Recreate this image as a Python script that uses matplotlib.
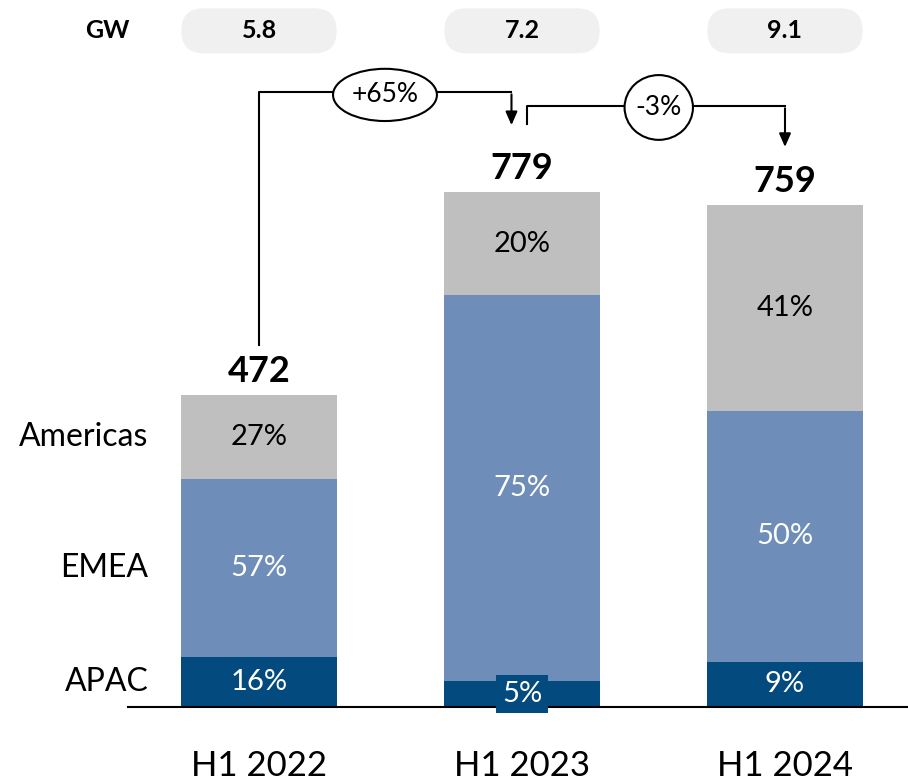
import numpy as np
import matplotlib
matplotlib.use("Agg")
import matplotlib.pyplot as plt
from matplotlib.patches import Ellipse, FancyBboxPatch

plt.rcParams['font.family'] = ['Lato', 'DejaVu Sans']

# data
periods = ['H1 2022', 'H1 2023', 'H1 2024']
totals = [472, 779, 759]
gw = ['5.8', '7.2', '9.1']
regions = ['APAC', 'EMEA', 'Americas']
apac = [16, 5, 9]
emea = [57, 75, 50]
americas = [27, 20, 41]
changes = ['+65%', '-3%']

colors = {'APAC': '#034a7f', 'EMEA': '#6e8db9', 'Americas': '#bfbfbf'}
text_colors = {'APAC': 'white', 'EMEA': 'white', 'Americas': 'black'}

fig = plt.figure(figsize=(9.08, 7.82), dpi=100)
ax = fig.add_axes([0, 0, 1, 1])
ax.axis('off')
# one x unit = 263 px, one y unit = 0.661 px, baseline 75 px above bottom
ax.set_xlim(-259 / 263, (908 - 259) / 263)
ax.set_ylim(-75 / 0.661, 707 / 0.661)

x = np.arange(len(periods))
width = 0.59
shares = {'APAC': apac, 'EMEA': emea, 'Americas': americas}
bottom = np.zeros(len(periods))
for reg in regions:
    h = np.array(totals) * np.array(shares[reg]) / 100
    ax.bar(x, h, width, bottom=bottom, color=colors[reg], zorder=2)
    for i in range(len(periods)):
        yc = bottom[i] + h[i] / 2
        kw = {}
        if h[i] < 50:
            kw['bbox'] = dict(boxstyle='square,pad=0.2', fc=colors[reg], ec='none')
        ax.text(x[i], yc, f'{shares[reg][i]}%', ha='center', va='center',
                fontsize=21, color=text_colors[reg], zorder=5, **kw)
    # region name left of first bar
    ax.text(-0.42, bottom[0] + h[0] / 2, reg, ha='right', va='center', fontsize=23, color='black')
    bottom += h

# baseline
ax.plot([(128 - 259) / 263, 2.6], [0, 0], color='black', lw=1.5, zorder=3)

# totals
for i, t in enumerate(totals):
    ax.text(x[i], t + 36, str(t), ha='center', va='center', fontsize=26, fontweight='bold')

# category labels
for i, p in enumerate(periods):
    ax.text(x[i], -89, p, ha='center', va='center', fontsize=25)

# GW row
ax.text(-0.578, 1023, 'GW', ha='center', va='center', fontsize=18, fontweight='bold')
for i, g in enumerate(gw):
    box = FancyBboxPatch((x[i] - width / 2, 1023 - 34), width, 68,
                         boxstyle='round,pad=0,rounding_size=0.084', mutation_aspect=398,
                         fc='#f0f0f0', ec='none')
    ax.add_patch(box)
    ax.text(x[i], 1023, g, ha='center', va='center', fontsize=18, fontweight='bold')

# growth arrows
arrow_kw = dict(arrowstyle='-|>,head_length=0.8,head_width=0.35', color='black', lw=1.5)
ax.plot([0, 0, 0.96], [548, 930, 930], color='black', lw=1.5)
ax.annotate('', xy=(0.96, 876), xytext=(0.96, 931), arrowprops=arrow_kw)
ax.plot([1.02, 1.02, 2.0], [882, 909, 909], color='black', lw=1.5)
ax.annotate('', xy=(2.0, 843), xytext=(2.0, 910), arrowprops=arrow_kw)

ell_pos = [(0.479, 926, 0.395, 79), (1.52, 907, 0.26, 98)]
for (ex, ey, ew, eh), c in zip(ell_pos, changes):
    ax.add_patch(Ellipse((ex, ey), ew, eh, fc='white', ec='black', lw=1.5, zorder=4))
    ax.text(ex, ey, c, ha='center', va='center', fontsize=19, zorder=5)

fig.savefig('out.png', dpi=100)
